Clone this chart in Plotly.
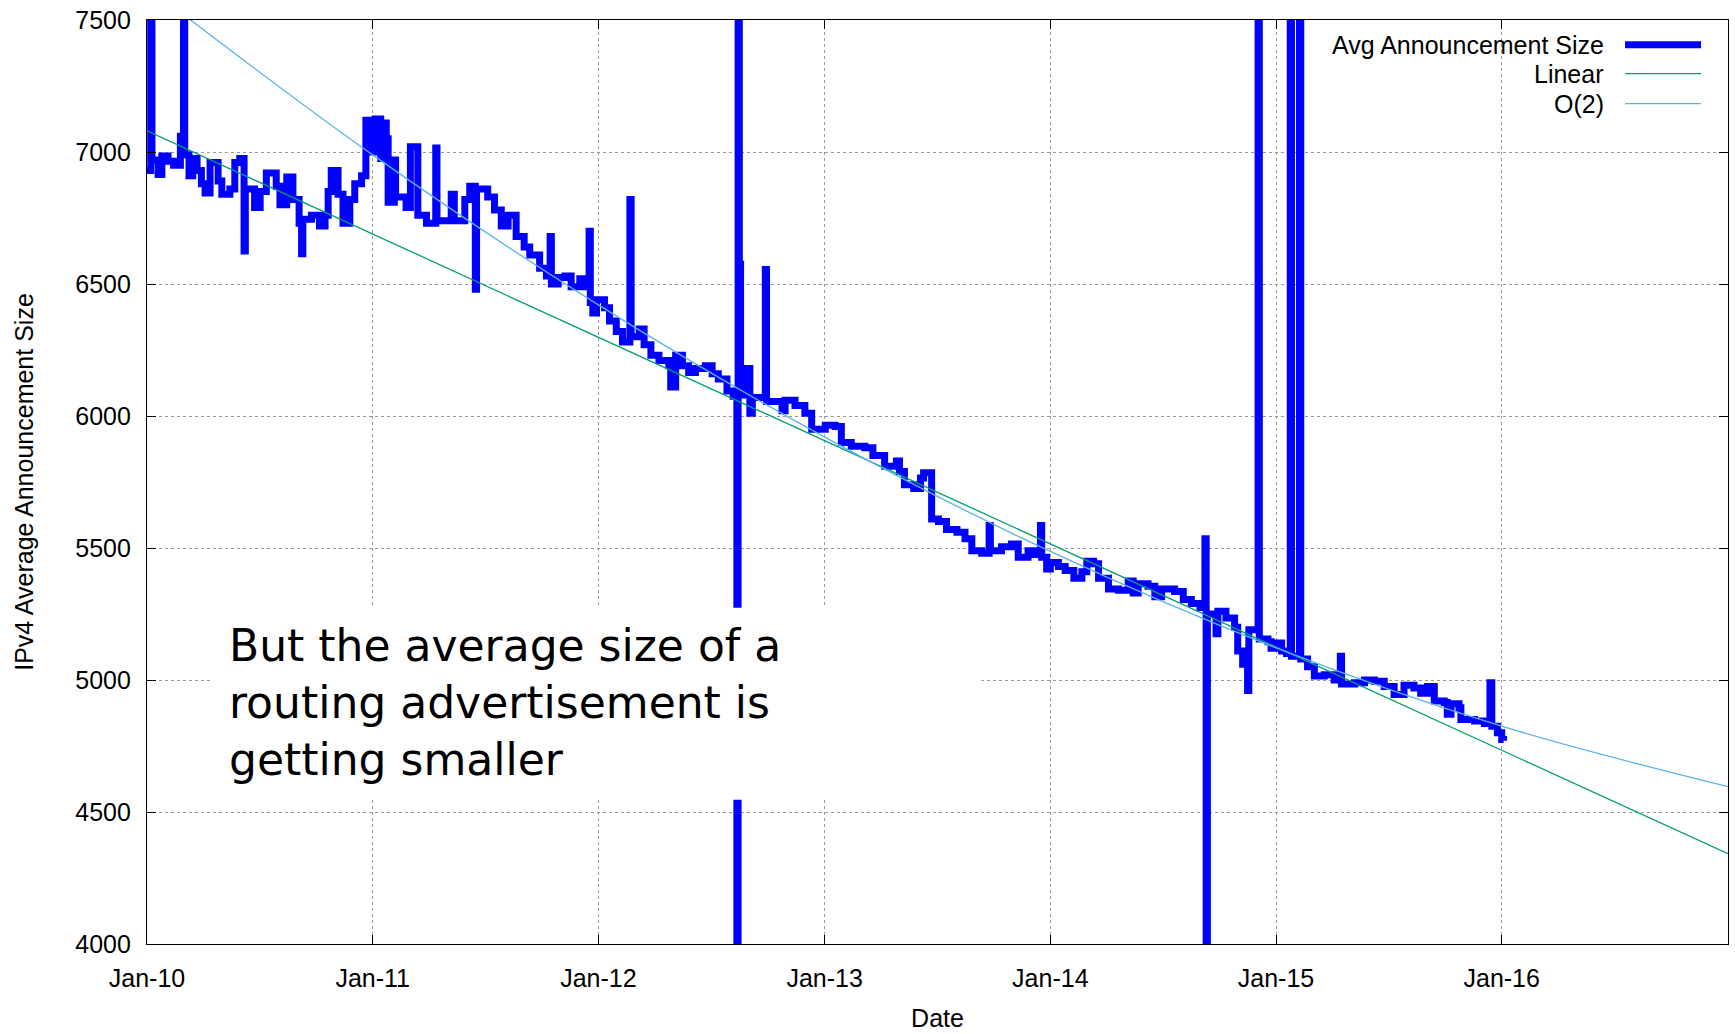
import plotly.graph_objects as go

# Average IPv4 announcement size (sampled series)
avg_dates = [
    "2010-01-01", "2010-01-07", "2010-01-09", "2010-01-19", "2010-01-25", "2010-02-04",
    "2010-02-13", "2010-02-24", "2010-03-01", "2010-03-03", "2010-03-10", "2010-03-16",
    "2010-03-23", "2010-03-30", "2010-04-05", "2010-04-13", "2010-04-26", "2010-05-02",
    "2010-05-15", "2010-05-23", "2010-05-31", "2010-06-07", "2010-06-09", "2010-06-24",
    "2010-07-03", "2010-07-13", "2010-07-29", "2010-08-04", "2010-08-15", "2010-08-25",
    "2010-09-04", "2010-09-08", "2010-09-10", "2010-09-24", "2010-10-07", "2010-10-16",
    "2010-10-21", "2010-10-26", "2010-11-06", "2010-11-14", "2010-11-25", "2010-12-03",
    "2010-12-14", "2010-12-21", "2010-12-30", "2011-01-05", "2011-01-14", "2011-01-17",
    "2011-01-23", "2011-01-26", "2011-02-05", "2011-02-07", "2011-02-24", "2011-03-03",
    "2011-03-15", "2011-03-29", "2011-04-13", "2011-04-15", "2011-05-08", "2011-05-13",
    "2011-05-30", "2011-06-07", "2011-06-16", "2011-06-18", "2011-07-06", "2011-07-17",
    "2011-07-28", "2011-08-08", "2011-08-21", "2011-09-03", "2011-09-12", "2011-09-28",
    "2011-10-09", "2011-10-15", "2011-10-17", "2011-10-28", "2011-11-08", "2011-11-18",
    "2011-12-02", "2011-12-10", "2011-12-17", "2011-12-19", "2011-12-23", "2011-12-29",
    "2012-01-11", "2012-01-19", "2012-01-30", "2012-02-09", "2012-02-21", "2012-02-23",
    "2012-03-07", "2012-03-15", "2012-03-26", "2012-04-08", "2012-04-24", "2012-04-27",
    "2012-05-05", "2012-05-16", "2012-05-26", "2012-06-06", "2012-06-22", "2012-07-03",
    "2012-07-13", "2012-07-27", "2012-08-06", "2012-08-12", "2012-08-14", "2012-08-16",
    "2012-08-18", "2012-08-29", "2012-09-02", "2012-09-06", "2012-09-27", "2012-09-29",
    "2012-10-24", "2012-10-29", "2012-11-14", "2012-11-30", "2012-12-11", "2013-01-02",
    "2013-01-18", "2013-01-28", "2013-02-13", "2013-03-07", "2013-03-20", "2013-04-08",
    "2013-04-27", "2013-05-02", "2013-05-10", "2013-05-25", "2013-06-05", "2013-06-10",
    "2013-06-23", "2013-07-04", "2013-07-17", "2013-08-03", "2013-08-16", "2013-08-27",
    "2013-09-12", "2013-09-24", "2013-09-26", "2013-10-14", "2013-10-30", "2013-11-10",
    "2013-11-26", "2013-12-07", "2013-12-16", "2013-12-18", "2013-12-26", "2014-01-01",
    "2014-01-14", "2014-01-25", "2014-02-08", "2014-02-21", "2014-03-01", "2014-03-12",
    "2014-03-20", "2014-04-05", "2014-04-21", "2014-05-07", "2014-05-15", "2014-05-23",
    "2014-06-08", "2014-06-19", "2014-06-30", "2014-07-21", "2014-08-04", "2014-08-17",
    "2014-08-31", "2014-09-08", "2014-09-10", "2014-09-12", "2014-09-26", "2014-09-29",
    "2014-10-12", "2014-10-26", "2014-10-31", "2014-11-08", "2014-11-16", "2014-11-18",
    "2014-12-03", "2014-12-05", "2014-12-19", "2014-12-24", "2015-01-01", "2015-01-10",
    "2015-01-18", "2015-01-24", "2015-01-26", "2015-02-08", "2015-02-10", "2015-02-21",
    "2015-03-04", "2015-03-20", "2015-04-05", "2015-04-15", "2015-04-17", "2015-05-08",
    "2015-05-24", "2015-06-09", "2015-06-25", "2015-07-11", "2015-07-27", "2015-08-12",
    "2015-08-23", "2015-09-03", "2015-09-14", "2015-09-30", "2015-10-05", "2015-10-11",
    "2015-10-24", "2015-10-27", "2015-11-18", "2015-12-04", "2015-12-13", "2015-12-16",
    "2015-12-25", "2016-01-01", "2016-01-04",
]
avg_values = [
    6930, 7800, 6970, 6915, 6985, 6965,
    6950, 7060, 7800, 6990, 6910, 6975,
    6930, 6880, 6845, 6960, 6890, 6840,
    6860, 6960, 6975, 6625, 6860, 6790,
    6850, 6920, 6870, 6800, 6905, 6820,
    6730, 6615, 6745, 6760, 6720, 6760,
    6850, 6930, 6840, 6730, 6820, 6880,
    6910, 7120, 7000, 7125, 6975, 7110,
    7050, 6810, 6970, 6830, 6790, 7020,
    6760, 6730, 7015, 6740, 6840, 6740,
    6820, 6870, 6480, 6860, 6830, 6780,
    6720, 6760, 6680, 6640, 6610, 6560,
    6530, 6680, 6500, 6525, 6530, 6490,
    6520, 6490, 6700, 6430, 6390, 6440,
    6410, 6360, 6320, 6280, 6820, 6300,
    6330, 6270, 6230, 6210, 6190, 6110,
    6230, 6190, 6165, 6180, 6190, 6160,
    6140, 6095, 6075, 3800, 7800, 6575,
    6080, 6180, 6010, 6070, 6555, 6055,
    6020, 6060, 6040, 6010, 5950, 5965,
    5960, 5900, 5885, 5880, 5850, 5810,
    5830, 5790, 5740, 5725, 5765, 5785,
    5610, 5600, 5570, 5560, 5535, 5490,
    5480, 5585, 5490, 5505, 5515, 5465,
    5490, 5475, 5585, 5465, 5420, 5445,
    5430, 5415, 5385, 5410, 5450, 5440,
    5385, 5345, 5340, 5375, 5330, 5365,
    5355, 5315, 5345, 5335, 5305, 5290,
    5275, 5535, 3800, 5250, 5175, 5260,
    5235, 5200, 5110, 5060, 4960, 5190,
    7800, 5155, 5145, 5120, 5140, 5110,
    5100, 7800, 5090, 7800, 5080, 5050,
    5015, 5020, 5000, 5090, 4985, 4990,
    5000, 4995, 4975, 4945, 4980, 4970,
    4950, 4975, 4920, 4915, 4870, 4910,
    4895, 4850, 4845, 4835, 4990, 4825,
    4800, 4775, 4770,
]

# Linear trend (end points)
linear_dates = ["2010-01-01", "2017-01-01"]
linear_values = [7080, 4342]

# Second-order trend, yearly readings
o2_dates = ["2010-01-01", "2011-01-01", "2012-01-01", "2013-01-01", "2014-01-01",
            "2015-01-01", "2016-01-01", "2017-01-01"]
o2_values = [7626, 6989, 6421, 5920, 5487, 5122, 4825, 4596]

y_ticks = [4000, 4500, 5000, 5500, 6000, 6500, 7000, 7500]

BLUE = "#0000ff"
GREEN = "#009e73"
SKY = "#56b4e9"
FONT = "Liberation Sans, Arial, sans-serif"

# Plot-area geometry in pixels, used to place the key and the note
W, H = 1735, 1034
L, R, T, B = 147, 1729, 19, 948


def px_x(x):
    return (x - L) / (R - L)


def px_y(y):
    return (B - y) / (B - T)


fig = go.Figure()
fig.add_trace(go.Scatter(x=avg_dates, y=avg_values, mode="lines", line_shape="hv",
                         line=dict(color=BLUE, width=7), showlegend=False))
fig.add_trace(go.Scatter(x=linear_dates, y=linear_values, mode="lines",
                         line=dict(color=GREEN, width=1.3), showlegend=False))
fig.add_trace(go.Scatter(x=o2_dates, y=o2_values, mode="lines", line_shape="spline",
                         line=dict(color=SKY, width=1.3), showlegend=False))

shapes = []
annotations = []

# Opaque key box hides the grid behind it
shapes.append(dict(type="rect", xref="paper", yref="paper",
                   x0=px_x(1320), x1=1.0, y0=px_y(118), y1=1.0,
                   fillcolor="white", line=dict(width=0), layer="between"))

key_rows = [("Avg Announcement Size", BLUE, 7, 44),
            ("Linear", GREEN, 1.3, 73),
            ("O(2)", SKY, 1.3, 103)]
for label, color, width, ypx in key_rows:
    annotations.append(dict(xref="paper", yref="paper", x=px_x(1607), y=px_y(ypx),
                            xanchor="right", yanchor="middle", showarrow=False,
                            text=label, font=dict(family=FONT, size=25, color="black")))
    shapes.append(dict(type="line", xref="paper", yref="paper",
                       x0=px_x(1626), x1=px_x(1702), y0=px_y(ypx), y1=px_y(ypx),
                       line=dict(color=color, width=width), layer="above"))

# White panel for the note, drawn over the data
shapes.append(dict(type="rect", xref="paper", yref="paper",
                   x0=px_x(211), x1=px_x(982), y0=px_y(803), y1=px_y(610),
                   fillcolor="white", line=dict(width=0), layer="above"))
annotations.append(dict(xref="paper", yref="paper", x=px_x(227), y=px_y(705),
                        xanchor="left", yanchor="middle", align="left", showarrow=False,
                        text="But the average size of a<br>routing advertisement is<br>getting smaller",
                        font=dict(family="DejaVu Sans", size=44, color="black")))

axis_common = dict(
    showline=True, linecolor="black", linewidth=1.2, mirror="ticks",
    ticks="inside", ticklen=9, tickcolor="black", tickwidth=1.2,
    showgrid=True, gridcolor="#9a9a9a", griddash="dot", gridwidth=1,
    zeroline=False, tickfont=dict(family=FONT, size=25, color="black"),
)

fig.update_layout(
    width=W, height=H,
    margin=dict(l=L, r=W - R, t=T, b=H - B),
    paper_bgcolor="white", plot_bgcolor="white",
    font=dict(family=FONT, size=25, color="black"),
    xaxis=dict(axis_common, type="date", range=["2010-01-01", "2017-01-01"],
               tick0="2010-01-01", dtick="M12", tickformat="%b-%y",
               ticklabelstandoff=12,
               title=dict(text="Date", standoff=18, font=dict(family=FONT, size=25))),
    yaxis=dict(axis_common, range=[4000, 7500], tickvals=y_ticks,
               ticktext=[str(v) for v in y_ticks], ticklabelstandoff=10,
               title=dict(text="IPv4 Average Announcement Size", standoff=34,
                          font=dict(family=FONT, size=25))),
    shapes=shapes,
    annotations=annotations,
)

fig.write_html("out.html")
